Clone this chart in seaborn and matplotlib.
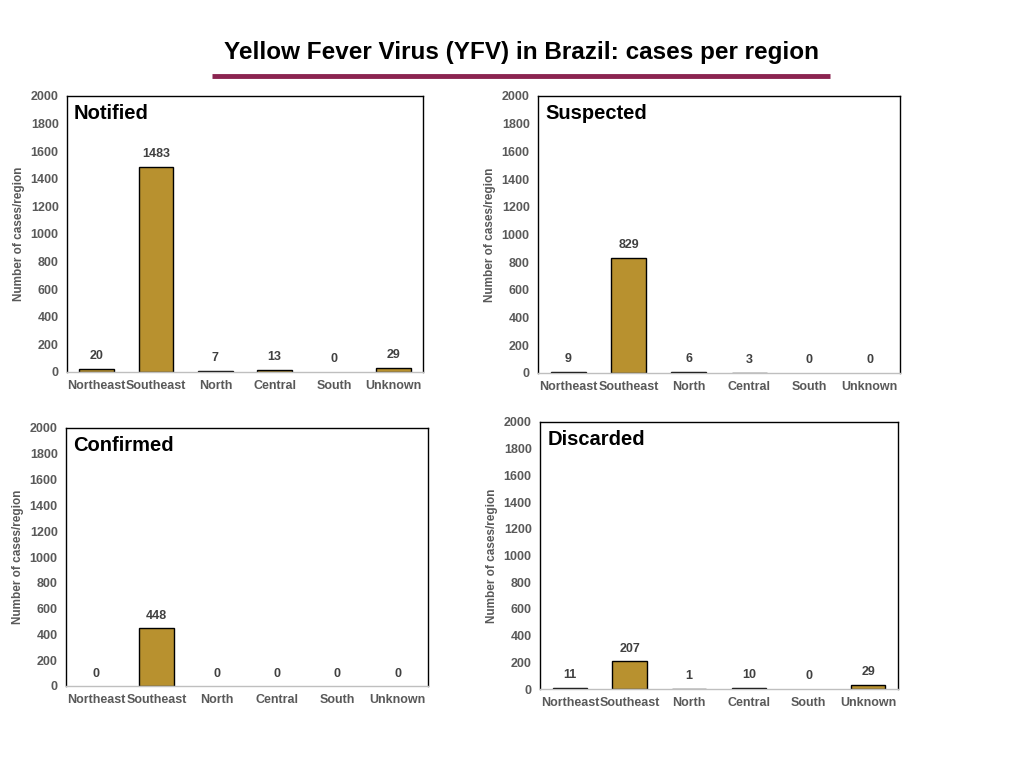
import numpy as np
import pandas as pd
import matplotlib
matplotlib.use('Agg')
import matplotlib.pyplot as plt
import seaborn as sns

regions = ['Northeast', 'Southeast', 'North', 'Central', 'South', 'Unknown']
notified = [20, 1483, 7, 13, 0, 29]
suspected = [9, 829, 6, 3, 0, 0]
confirmed = [0, 448, 0, 0, 0, 0]
discarded = [11, 207, 1, 10, 0, 29]

panels = [('Notified', notified), ('Suspected', suspected),
          ('Confirmed', confirmed), ('Discarded', discarded)]

sns.set_style('white')
plt.rcParams['font.family'] = ['Liberation Sans', 'DejaVu Sans']

W, H = 1024, 768
fig = plt.figure(figsize=(10.24, 7.68), dpi=100)

# axes boxes in pixels: left, top, right, bottom
boxes = [(67, 96, 423, 372), (538, 96, 900, 373),
         (66, 428, 428, 686), (540, 422, 898, 689)]

gold = '#B8912F'
grey = '#595959'

for (name, vals), (l, t, r, b) in zip(panels, boxes):
    ax = fig.add_axes([l / W, 1 - b / H, (r - l) / W, (b - t) / H])
    df = pd.DataFrame({'region': regions, 'cases': vals})
    sns.barplot(data=df, x='region', y='cases', color=gold, width=0.58,
                edgecolor='black', linewidth=1, saturation=1, ax=ax)
    # empty bars show nothing
    for patch, v in zip(ax.patches, vals):
        if v == 0:
            patch.set_visible(False)
    ax.set_xlim(-0.5, 5.5)
    ax.set_ylim(0, 2000)
    ax.set_yticks(range(0, 2001, 200))
    ax.tick_params(axis='both', length=0, labelsize=9, labelcolor=grey, pad=6)
    for lab in ax.get_xticklabels() + ax.get_yticklabels():
        lab.set_fontweight('bold')
    ax.set_xlabel('')
    ax.set_ylabel('Number of cases/region', fontsize=8.5, color=grey,
                  fontweight='bold', labelpad=4)
    for s in ['top', 'left', 'right']:
        ax.spines[s].set_color('black')
        ax.spines[s].set_linewidth(1)
    ax.spines['bottom'].set_color('#BFBFBF')
    ax.spines['bottom'].set_linewidth(1)
    for i, v in enumerate(vals):
        ax.text(i, v + 50, str(v), ha='center', va='bottom', fontsize=9,
                color='#404040', fontweight='bold')
    ax.text(0.02, 0.97, name, transform=ax.transAxes, ha='left', va='top',
            fontsize=14.5, fontweight='bold', color='black')

fig.text(0.509, 1 - 52 / H, 'Yellow Fever Virus (YFV) in Brazil: cases per region',
         ha='center', va='center', fontsize=17.5, fontweight='bold', color='black')
fig.add_artist(plt.Line2D([212 / W, 830 / W], [1 - 76 / H, 1 - 76 / H],
                          color='#8B2450', linewidth=3.5, solid_capstyle='butt'))

fig.savefig('out.png', dpi=100)
